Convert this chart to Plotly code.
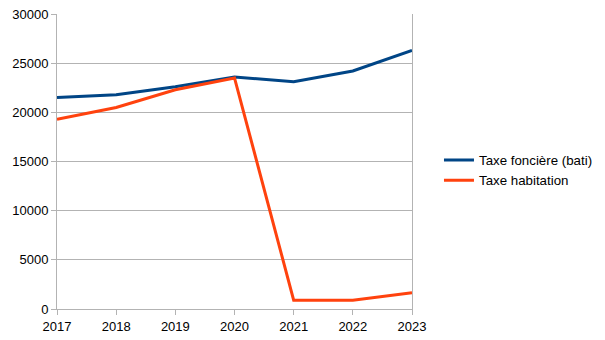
import plotly.graph_objects as go

years = [2017, 2018, 2019, 2020, 2021, 2022, 2023]
taxe_fonciere = [21500, 21800, 22600, 23600, 23100, 24200, 26300]
taxe_habitation = [19300, 20500, 22300, 23500, 900, 900, 1650]
series_names = ["Taxe foncière (bati)", "Taxe habitation"]
y_ticks = [0, 5000, 10000, 15000, 20000, 25000, 30000]

fig = go.Figure()
fig.add_trace(go.Scatter(x=years, y=taxe_fonciere, mode="lines", name=series_names[0],
                         line=dict(color="#004586", width=3)))
fig.add_trace(go.Scatter(x=years, y=taxe_habitation, mode="lines", name=series_names[1],
                         line=dict(color="#ff420e", width=3)))

fig.update_layout(
    width=605, height=340,
    margin=dict(l=57, r=193, t=14, b=31, autoexpand=False),
    paper_bgcolor="white", plot_bgcolor="white",
    font=dict(family="Liberation Sans", size=13, color="#000000"),
    legend=dict(x=1.076, y=0.47, xanchor="left", yanchor="middle",
                font=dict(size=13.3), tracegroupgap=0, itemwidth=30),
    showlegend=True,
)
fig.update_xaxes(range=[2017, 2023], tickvals=years, ticktext=[str(y) for y in years],
                 showgrid=False, showline=True, linecolor="#b3b3b3", linewidth=1,
                 ticks="outside", ticklen=5, tickcolor="#b3b3b3", zeroline=False,
                 automargin=False)
fig.update_yaxes(range=[0, 30000], tickvals=y_ticks, ticktext=[str(v) for v in y_ticks],
                 showgrid=True, gridcolor="#b3b3b3", gridwidth=1,
                 showline=True, mirror=True, linecolor="#b3b3b3", linewidth=1,
                 ticks="outside", ticklen=5, tickcolor="#b3b3b3", zeroline=False,
                 automargin=False)

fig.write_html("out.html")
